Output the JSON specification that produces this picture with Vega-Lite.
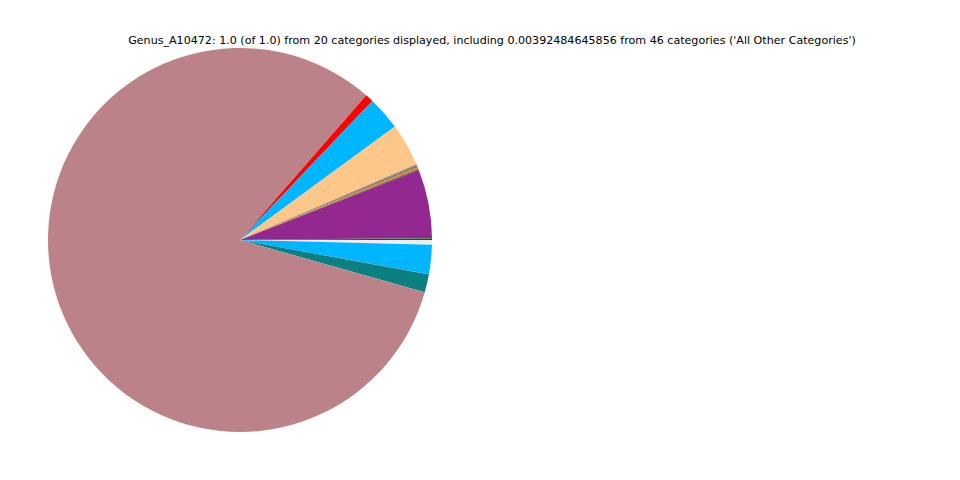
{
  "$schema": "https://vega.github.io/schema/vega-lite/v6.json",
  "width": 480,
  "height": 480,
  "padding": {"left": 0, "top": 0, "bottom": 0, "right": 480},
  "autosize": {"type": "none"},
  "background": "white",
  "view": {"stroke": null},
  "title": {
    "text": "Genus_A10472: 1.0 (of 1.0) from 20 categories displayed, including 0.00392484645856 from 46 categories ('All Other Categories')",
    "font": "DejaVu Sans",
    "fontSize": 11.1,
    "fontWeight": "normal",
    "color": "black",
    "anchor": "middle",
    "limit": 0,
    "offset": -46,
    "dx": 252
  },
  "data": {
    "values": [
      {"name": "All Other Categories", "idx": 1, "value": 0.0039},
      {"name": "Category 12", "idx": 2, "value": 0.0247},
      {"name": "Category 18", "idx": 3, "value": 0.0002},
      {"name": "Category 11", "idx": 4, "value": 0.0151},
      {"name": "Category 19", "idx": 5, "value": 0.0002},
      {"name": "Category 10", "idx": 6, "value": 0.8199},
      {"name": "Category 20", "idx": 7, "value": 0.0002},
      {"name": "Category 9", "idx": 8, "value": 0.0069},
      {"name": "Category 8", "idx": 9, "value": 0.0283},
      {"name": "Category 7", "idx": 10, "value": 0.0361},
      {"name": "Category 6", "idx": 11, "value": 0.0011},
      {"name": "Category 5", "idx": 12, "value": 0.0014},
      {"name": "Category 4", "idx": 13, "value": 0.0014},
      {"name": "Category 3", "idx": 14, "value": 0.0011},
      {"name": "Category 2", "idx": 15, "value": 0.0578},
      {"name": "Category 16", "idx": 16, "value": 0.0001},
      {"name": "Category 17", "idx": 17, "value": 0.0001},
      {"name": "Category 15", "idx": 18, "value": 0.0001},
      {"name": "Category 14", "idx": 19, "value": 0.0001},
      {"name": "Category 1", "idx": 20, "value": 0.0013}
    ]
  },
  "mark": {"type": "arc", "outerRadius": 192},
  "encoding": {
    "theta": {
      "field": "value",
      "type": "quantitative",
      "stack": true,
      "scale": {"range": [1.5707963, 7.8539816]}
    },
    "order": {"field": "idx", "type": "quantitative"},
    "color": {
      "field": "name",
      "type": "nominal",
      "legend": null,
      "scale": {
        "domain": ["All Other Categories", "Category 12", "Category 18", "Category 11", "Category 19", "Category 10", "Category 20", "Category 9", "Category 8", "Category 7", "Category 6", "Category 5", "Category 4", "Category 3", "Category 2", "Category 16", "Category 17", "Category 15", "Category 14", "Category 1"],
        "range": ["#eeeeee", "#00b6ff", "#8a6a90", "#0b8080", "#8a6a90", "#bc828a", "#808080", "#ff0000", "#00b6ff", "#fec78a", "#8a8a8a", "#6e6e6e", "#e08a10", "#6b6b50", "#922890", "#505050", "#707070", "#2a6a2a", "#404040", "#006400"]
      }
    }
  }
}
